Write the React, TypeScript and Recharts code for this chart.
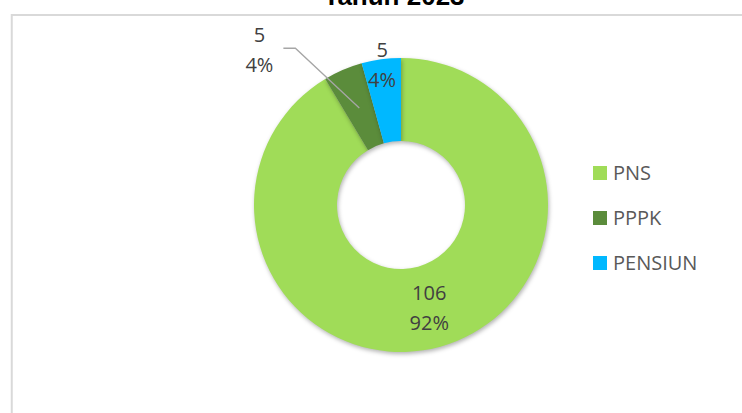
import React from "react";
import { Cell, Legend, Pie, PieChart } from "recharts";

const categories = ["PNS", "PPPK", "PENSIUN"];
const counts = [106, 5, 5];
const percentLabels = ["92%", "4%", "4%"];
const colors = ["#a0dc58", "#5b8c3b", "#00b8ff"];

const title = "Tahun 2023";

const data = categories.map((name, i) => ({
    name,
    value: counts[i],
    pct: percentLabels[i],
}));

const RAD = Math.PI / 180;
const polar = (cx: number, cy: number, r: number, angle: number) => ({
    x: cx + r * Math.cos(-angle * RAD),
    y: cy + r * Math.sin(-angle * RAD),
});

const labelFont = {
    fontFamily: "'Open Sans', sans-serif",
    fontSize: 20,
    fill: "#404040",
};

function renderLabel(props: any) {
    const { cx, cy, midAngle, innerRadius, outerRadius, index, payload } = props;
    const mid = (innerRadius + outerRadius) / 2;
    const value = payload?.value ?? counts[index];
    const pct = payload?.pct ?? percentLabels[index];

    if (index === 0) {
        // big slice: label sits inside the ring
        const p = polar(cx, cy, mid, midAngle);
        return (
            <g>
                <text x={p.x} y={p.y - 7} textAnchor="middle" {...labelFont}>
                    {value}
                </text>
                <text x={p.x} y={p.y + 23} textAnchor="middle" {...labelFont}>
                    {pct}
                </text>
            </g>
        );
    }

    if (index === 1) {
        // pushed out with a leader line
        const start = polar(cx, cy, mid, midAngle);
        const elbow = polar(cx, cy, outerRadius + 42, midAngle + 10.7);
        const end = { x: elbow.x - 12, y: elbow.y };
        const tx = end.x - 24;
        return (
            <g>
                <polyline
                    points={`${start.x},${start.y} ${elbow.x},${elbow.y} ${end.x},${end.y}`}
                    fill="none"
                    stroke="#a6a6a6"
                    strokeWidth={1.3}
                />
                <text x={tx} y={end.y - 6} textAnchor="middle" {...labelFont}>
                    {value}
                </text>
                <text x={tx} y={end.y + 24} textAnchor="middle" {...labelFont}>
                    {pct}
                </text>
            </g>
        );
    }

    // small slice at the top: label near the outer edge
    const p = polar(cx, cy, outerRadius - 7, midAngle);
    return (
        <g>
            <text x={p.x} y={p.y - 9} textAnchor="middle" {...labelFont}>
                {value}
            </text>
            <text x={p.x} y={p.y + 21} textAnchor="middle" {...labelFont}>
                {pct}
            </text>
        </g>
    );
}

function LegendContent() {
    return (
        <div style={{ fontFamily: "'Open Sans', sans-serif" }}>
            {categories.map((name, i) => (
                <div
                    key={name}
                    style={{
                        display: "flex",
                        alignItems: "center",
                        height: 45,
                        fontSize: 20,
                        lineHeight: "20px",
                        color: "#595959",
                    }}
                >
                    <span
                        style={{
                            width: 14,
                            height: 14,
                            background: colors[i],
                            marginRight: 6,
                            display: "inline-block",
                        }}
                    />
                    {name}
                </div>
            ))}
        </div>
    );
}

export default function App() {
    return (
        <div
            style={{
                position: "absolute",
                left: 0,
                top: 0,
                width: 742,
                height: 413,
                background: "#fff",
                overflow: "hidden",
            }}
        >
            <svg
                width={742}
                height={413}
                style={{ position: "absolute", left: 0, top: 0 }}
            >
                <rect
                    x={11.75}
                    y={15}
                    width={760}
                    height={420}
                    fill="none"
                    stroke="#d9d9d9"
                    strokeWidth={2}
                />
                <text
                    x={394}
                    y={5}
                    textAnchor="middle"
                    fontFamily="'Liberation Sans', Arial, sans-serif"
                    fontWeight="bold"
                    fontSize={26}
                    fill="#000"
                >
                    {title}
                </text>
            </svg>
            <div style={{ position: "absolute", left: 0, top: 0 }}>
                <PieChart
                    width={742}
                    height={413}
                    margin={{ top: 0, right: 0, bottom: 0, left: 0 }}
                >
                    <Pie
                        data={data}
                        dataKey="value"
                        nameKey="name"
                        cx={401}
                        cy={205}
                        innerRadius={64}
                        outerRadius={147}
                        startAngle={90}
                        endAngle={-270}
                        stroke="none"
                        label={renderLabel}
                        labelLine={false}
                        isAnimationActive={false}
                    >
                        {data.map((d, i) => (
                            <Cell
                                key={d.name}
                                fill={colors[i]}
                                style={{
                                    filter: "drop-shadow(1px 2px 2px rgba(0,0,0,0.3))",
                                }}
                            />
                        ))}
                    </Pie>
                    <Legend
                        layout="vertical"
                        align="right"
                        verticalAlign="top"
                        content={<LegendContent />}
                        wrapperStyle={{ left: 593, top: 150, width: 140 }}
                    />
                </PieChart>
            </div>
        </div>
    );
}
